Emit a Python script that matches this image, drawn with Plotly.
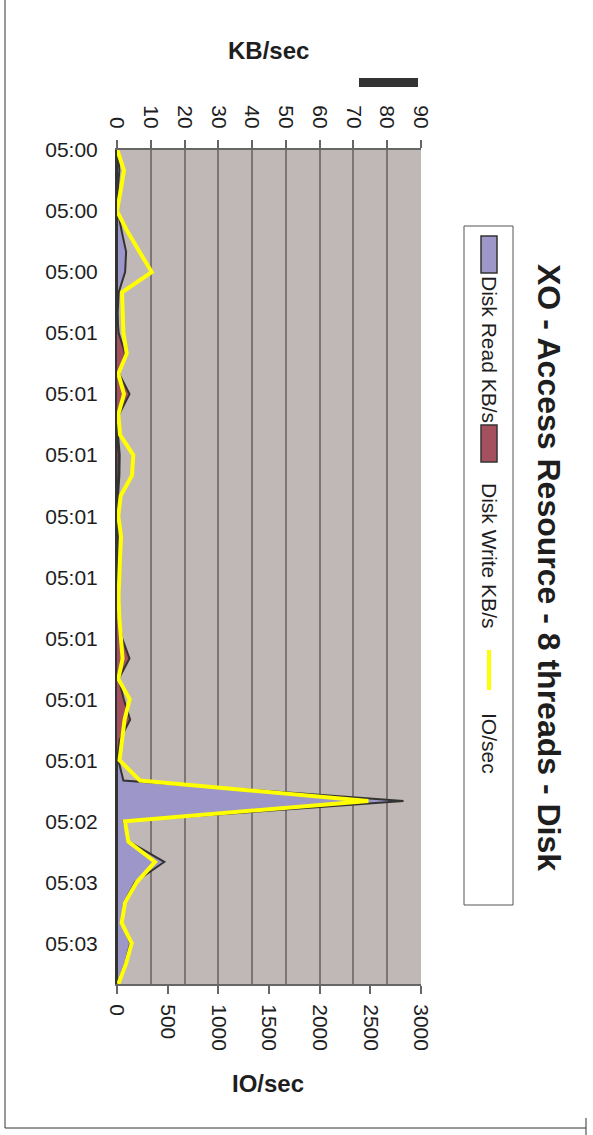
import plotly.graph_objects as go

# ---------------- data ----------------
time_labels = ["05:00", "05:00", "05:00", "05:01", "05:01", "05:01", "05:01",
               "05:01", "05:01", "05:01", "05:01", "05:02", "05:03", "05:03"]
label_every = 3
sample_index = list(range(42))

disk_read_kb = [0.2, 0.7, 0.2, 0.2, 1.4, 2.7, 2.4, 0.5, 0.2, 0.2,
                0.2, 0.2, 0.2, 0.2, 0.3, 0.8, 0.7, 0.3, 0.2, 0.2,
                0.2, 0.2, 0.2, 0.2, 0.2, 0.2, 0.2, 0.2, 0.2, 0.5,
                0.4, 1.9, 84.8, 2.0, 3.6, 14.0, 5.3, 2.1, 1.4, 3.9,
                2.4, 0.1]
disk_write_kb = [0, 0, 0, 0, 0, 0, 0, 0, 0, 0.5,
                 2.4, 0.6, 3.7, 0.6, 0, 0.5, 0.4, 0, 0, 0,
                 0, 0, 0, 0.6, 1.5, 3.7, 0.5, 2.0, 3.9, 0.8,
                 0, 0, 0, 0, 0, 0, 0, 0, 0, 0,
                 0, 0]
io_per_sec = [3, 69, 36, 0, 102, 224, 342, 50, 56, 63,
              96, 13, 69, 13, 30, 161, 148, 36, 13, 40,
              30, 20, 15, 23, 40, 55, 13, 125, 75, 46,
              25, 227, 2480, 79, 112, 375, 194, 79, 46, 145,
              89, 13]

kb_range = [0, 90]
io_range = [0, 3000]

title_text = "XO - Access Resource - 8 threads - Disk"
series_names = ["Disk Read KB/s", "Disk Write KB/s", "IO/sec"]

# ---------------- styles ----------------
W, H = 593, 1135
L, R, T, B = 117, 421, 150, 984
FONT = "Liberation Sans, Arial, sans-serif"
READ_COL = "#9C97C8"
WRITE_COL = "#A4505E"
IO_COL = "#FFFF00"
OUTLINE = "#333333"
BG = "#C0B8B6"
GRID = "#7C7575"
TXT = "#1E1E1E"


def px(x):
    return (x - L) / (R - L)


def py(y):
    return (B - y) / (B - T)


fig = go.Figure()

fig.add_trace(go.Scatter(
    x=disk_read_kb, y=sample_index, xaxis="x", yaxis="y",
    mode="lines", fill="tozerox", fillcolor=READ_COL,
    line=dict(color=OUTLINE, width=2), name=series_names[0],
    showlegend=False))
fig.add_trace(go.Scatter(
    x=disk_write_kb, y=sample_index, xaxis="x", yaxis="y",
    mode="lines", fill="tozerox", fillcolor=WRITE_COL,
    line=dict(color=OUTLINE, width=2), name=series_names[1],
    showlegend=False))
fig.add_trace(go.Scatter(
    x=io_per_sec, y=sample_index, xaxis="x2", yaxis="y",
    mode="lines", line=dict(color=IO_COL, width=4),
    name=series_names[2], showlegend=False))

tickvals = sample_index[::label_every]

fig.update_layout(
    width=W, height=H,
    margin=dict(l=L, r=W - R, t=T, b=H - B, pad=0),
    paper_bgcolor="white", plot_bgcolor=BG,
    font=dict(family=FONT, size=21, color=TXT),
    showlegend=False,
    xaxis=dict(
        range=kb_range, dtick=10, side="top", anchor="y",
        tickangle=90, ticks="outside", ticklen=8, tickwidth=2,
        tickcolor="#666666", showgrid=True, gridcolor=GRID, gridwidth=2,
        showline=True, linecolor="#666666", linewidth=2,
        zeroline=False, tickfont=dict(size=21, color=TXT),
        ticklabelstandoff=4,
    ),
    xaxis2=dict(
        range=io_range, dtick=500, side="bottom", overlaying="x",
        anchor="y", tickangle=90, ticks="outside", ticklen=8,
        tickwidth=2, tickcolor="#666666", showgrid=False,
        showline=True, linecolor="#666666", linewidth=2,
        zeroline=False, tickfont=dict(size=21, color=TXT),
        ticklabelstandoff=6,
    ),
    yaxis=dict(
        range=[sample_index[-1], sample_index[0]],
        tickvals=tickvals, ticktext=time_labels, ticks="",
        showgrid=False, zeroline=False, showline=True,
        linecolor=OUTLINE, linewidth=2,
        tickfont=dict(size=21, color=TXT),
        ticklabelstandoff=13,
    ),
)

shapes = []
# legend box
shapes.append(dict(type="rect", xref="paper", yref="paper",
                   x0=px(464), x1=px(513), y0=py(226), y1=py(905),
                   line=dict(color="#555555", width=1), fillcolor="white"))
# legend swatches
shapes.append(dict(type="rect", xref="paper", yref="paper",
                   x0=px(481), x1=px(497), y0=py(236), y1=py(273),
                   line=dict(color=OUTLINE, width=1.5), fillcolor=READ_COL))
shapes.append(dict(type="rect", xref="paper", yref="paper",
                   x0=px(481), x1=px(497), y0=py(425), y1=py(462),
                   line=dict(color=OUTLINE, width=1.5), fillcolor=WRITE_COL))
shapes.append(dict(type="line", xref="paper", yref="paper",
                   x0=px(489), x1=px(489), y0=py(650), y1=py(690),
                   line=dict(color=IO_COL, width=4)))
# black bar above top axis
shapes.append(dict(type="rect", xref="paper", yref="paper",
                   x0=px(359), x1=px(418), y0=py(78), y1=py(87),
                   line=dict(width=0), fillcolor="#333333"))
# outer frame
shapes.append(dict(type="line", xref="paper", yref="paper",
                   x0=px(5), x1=px(5), y0=py(0), y1=py(1128),
                   line=dict(color="#333333", width=1)))
shapes.append(dict(type="line", xref="paper", yref="paper",
                   x0=px(5), x1=px(586), y0=py(1128), y1=py(1128),
                   line=dict(color="#333333", width=1)))
shapes.append(dict(type="line", xref="paper", yref="paper",
                   x0=px(586), x1=px(586), y0=py(1118), y1=py(1135),
                   line=dict(color="#333333", width=1)))
fig.update_layout(shapes=shapes)

annotations = [
    dict(text="<b>" + title_text + "</b>", x=px(549), y=py(567),
         textangle=90, font=dict(size=32, color=TXT)),
    dict(text=series_names[0], x=px(490), y=py(349), textangle=90,
         font=dict(size=21, color=TXT)),
    dict(text=series_names[1], x=px(490), y=py(555), textangle=90,
         font=dict(size=21, color=TXT)),
    dict(text=series_names[2], x=px(490), y=py(743), textangle=90,
         font=dict(size=21, color=TXT)),
    dict(text="<b>KB/sec</b>", x=px(268), y=py(50),
         font=dict(size=24, color=TXT)),
    dict(text="<b>IO/sec</b>", x=px(268), y=py(1083),
         font=dict(size=24, color=TXT)),
]
for a in annotations:
    a.update(xref="paper", yref="paper", showarrow=False,
             xanchor="center", yanchor="middle")
fig.update_layout(annotations=annotations)

fig.write_html("out.html", config={"displayModeBar": False},
               post_script="document.body.style.margin='0';")
